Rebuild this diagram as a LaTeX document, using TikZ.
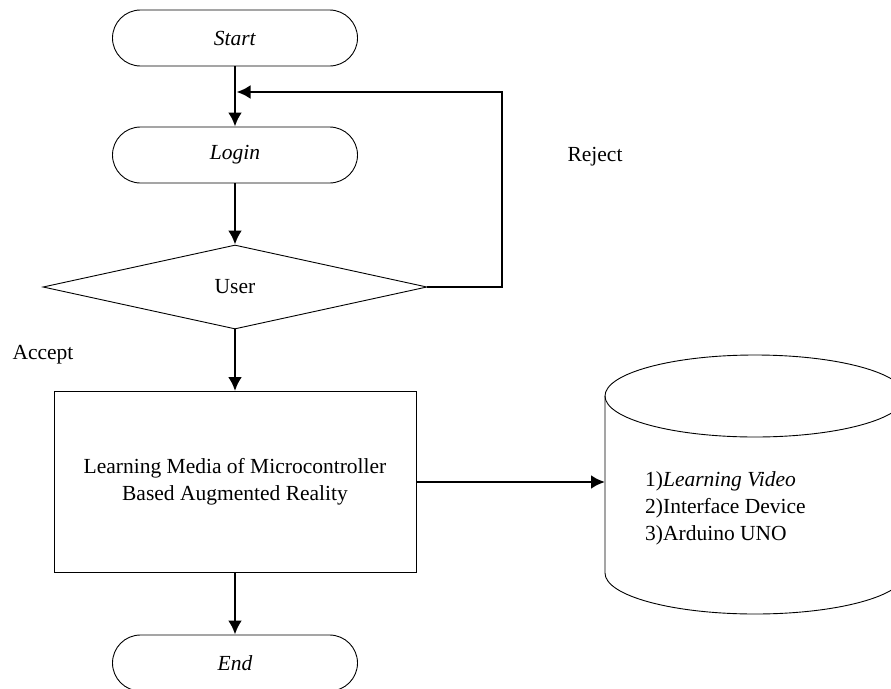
\documentclass[tikz,border=0pt]{standalone}
\usepackage{fontspec}
\setmainfont{Liberation Serif}
\usetikzlibrary{shapes.geometric,arrows.meta}

\tikzset{
  terminal/.style={draw, line width=0.9pt, rounded corners=28pt, minimum width=245pt, minimum height=56pt, inner sep=0pt},
  decision/.style={draw, diamond, line width=0.9pt, minimum width=384pt, minimum height=84pt, inner sep=0pt},
  process/.style={draw, rectangle, line width=0.9pt, minimum width=362pt, minimum height=181pt, align=center},
  flow/.style={line width=2.8pt}
}

\begin{document}
\begin{tikzpicture}[x=1pt, y=-1pt, >={Latex[length=14pt,width=14pt]}, font=\fontsize{21.5}{27}\selectfont]
\useasboundingbox (0,0) rectangle (891,688);
\clip (0,0) rectangle (891,688);

% Terminals
\node[terminal] (start) at (235,38) {\textit{Start}};
\node[terminal] (login) at (235,155) {\textit{Login}};
\node[terminal] (end) at (235,663) {\textit{End}};

% Decision
\node[decision] (user) at (235,287) {User};

% Process
\node[process] (media) at (235,482) {Learning Media of Microcontroller\\Based Augmented Reality};

% Storage (cut off at the right edge)
\draw[line width=0.9pt] (755,396) ellipse [x radius=150pt, y radius=41pt];
\draw[line width=0.9pt] (605,396) -- (605,573) arc[start angle=180, end angle=360, x radius=150pt, y radius=41pt] -- (905,396);
\node[anchor=west, align=left, inner sep=0pt] (items) at (645,508) {1)\textit{Learning Video}\\2)Interface Device\\3)Arduino UNO};
\coordinate (db) at (605,482);

% Branch labels
\node (reject) at (595,157) {Reject};
\node (accept) at (43,355) {Accept};

% Connectors
\coordinate (back) at (502,92);
\coordinate (join) at (236.5,92);
\draw[flow, ->] (start) -- (login);
\draw[flow, ->] (login) -- (user);
\draw[flow, ->] (user) -- (media);
\draw[flow, ->] (media) -- (end);
\draw[flow, ->] (media) -- (db);
\draw[flow, ->] (user.east) -| (back) -- (join);

\end{tikzpicture}
\end{document}
